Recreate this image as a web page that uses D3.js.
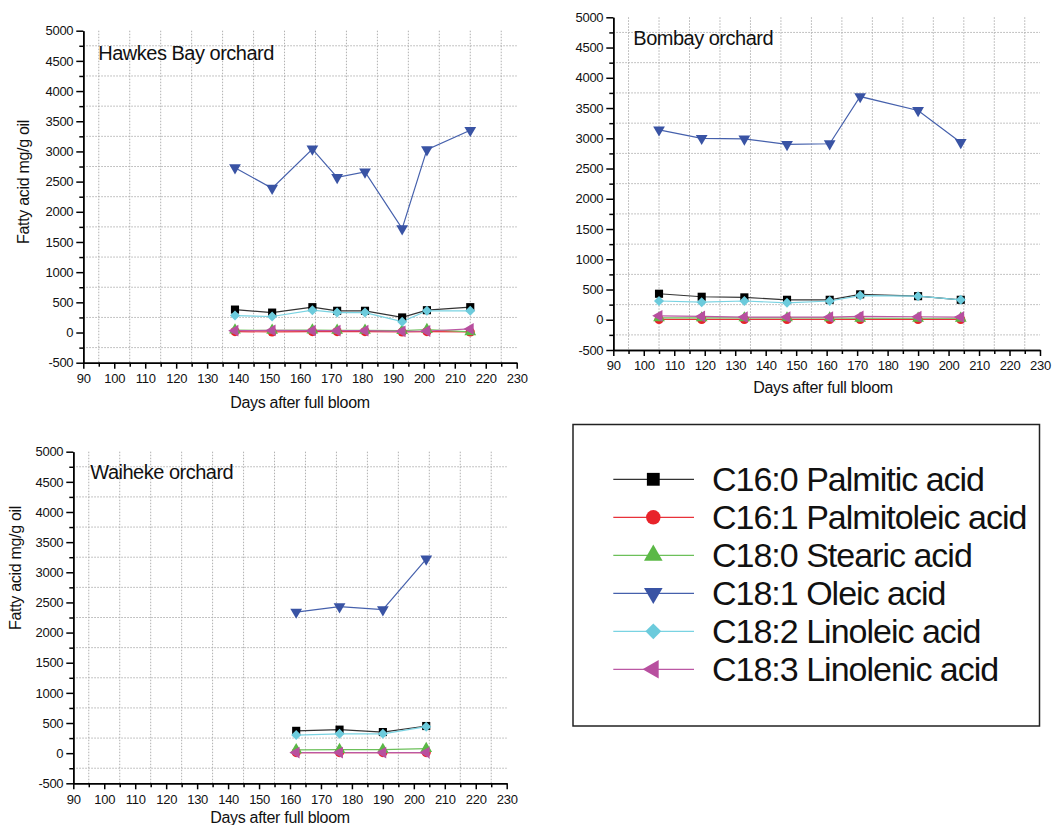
<!DOCTYPE html>
<html>
<head>
<meta charset="utf-8">
<script src="https://cdn.jsdelivr.net/npm/d3@7"></script>
<style>
  body { margin: 0; background: #fff; }
  text { font-family: "Liberation Sans", Arial, sans-serif; fill: #111; }
  .grid line { stroke: #b0b0b0; stroke-width: 1; stroke-dasharray: 1.5,1.5; }
  .axis path, .axis line { stroke: #000; stroke-width: 1.5; }
  .axis text { font-size: 13px; letter-spacing: -0.3px; }
</style>
</head>
<body>
<svg id="chart" width="1061" height="825"></svg>
<script>
// series (legend order)
var acidNames = ["C16:0 Palmitic acid", "C16:1 Palmitoleic acid", "C18:0 Stearic acid",
                 "C18:1 Oleic acid", "C18:2 Linoleic acid", "C18:3 Linolenic acid"];
var acidColors = ["#000000", "#e8232a", "#5bb846", "#3953a4", "#6ccbdc", "#b84f9f"];
var acidLineColors = ["#333333", "#e8323a", "#6cc05a", "#4560ac", "#7ad3e2", "#bb58a4"];

// Hawkes Bay orchard
var hawkesDays      = [139, 151, 164, 172, 181, 193, 201, 215];
var hawkesPalmitic  = [380, 330, 420, 360, 360, 250, 370, 420];
var hawkesPalmitol  = [15, 10, 15, 15, 15, 10, 15, 10];
var hawkesStearic   = [40, 35, 40, 35, 35, 30, 50, 10];
var hawkesOleic     = [2730, 2390, 3040, 2570, 2660, 1720, 3030, 3350];
var hawkesLinoleic  = [280, 265, 370, 330, 330, 180, 360, 360];
var hawkesLinolenic = [30, 35, 30, 30, 30, 20, 25, 60];

// Bombay orchard
var bombayDays      = [105, 119, 133, 147, 161, 171, 190, 204];
var bombayPalmitic  = [430, 380, 370, 330, 330, 420, 390, 330];
var bombayPalmitol  = [5, 5, 5, 5, 5, 5, 5, 5];
var bombayStearic   = [30, 30, 30, 30, 30, 25, 25, 25];
var bombayOleic     = [3140, 3000, 2990, 2900, 2910, 3690, 3460, 2930];
var bombayLinoleic  = [310, 290, 310, 280, 310, 400, 390, 330];
var bombayLinolenic = [65, 55, 45, 45, 45, 55, 50, 45];

// Waiheke orchard
var waihekeDays      = [162, 176, 190, 204];
var waihekePalmitic  = [370, 390, 350, 450];
var waihekePalmitol  = [10, 10, 10, 10];
var waihekeStearic   = [55, 60, 60, 75];
var waihekeOleic     = [2340, 2430, 2380, 3220];
var waihekeLinoleic  = [300, 320, 320, 440];
var waihekeLinolenic = [10, 10, 10, 10];

// axis ticks
var xMajorTicks = d3.range(90, 231, 10);
var xMinorTicks = d3.range(95, 230, 10);
var yMajorTicks = d3.range(-500, 5001, 500);
var yMinorTicks = d3.range(-250, 5000, 500);

var svg = d3.select("#chart");
svg.append("rect").attr("width", 1061).attr("height", 825).attr("fill", "#fff");

/*
  marker shapes
*/
function markerPath(i, big) {
  var k = big ? 2.5 : 1;
  var sq = d3.symbol().type(d3.symbolSquare).size(66 * k)();
  var ci = d3.symbol().type(d3.symbolCircle).size(66 * k)();
  var tr = d3.symbol().type(d3.symbolTriangle).size(60 * k)();
  var dm = d3.symbol().type(d3.symbolSquare).size(50 * k)();
  return [
    { d: sq, rot: 0 },
    { d: ci, rot: 0 },
    { d: tr, rot: 0 },
    { d: tr, rot: 180 },
    { d: dm, rot: 45 },
    { d: tr, rot: -90 }
  ][i];
}

// plain hyphen for negatives, like the original
function tickText(d) { return String(d); }

function drawPanel(p) {
  var g = svg.append("g");
  var x = d3.scaleLinear().domain([90, 230]).range([p.left, p.right]);
  var y = d3.scaleLinear().domain([-500, 5000]).range([p.bottom, p.top]);

  // dotted grid at minor positions
  var grid = g.append("g").attr("class", "grid");
  grid.selectAll(".vg").data(xMinorTicks).enter().append("line")
    .attr("x1", function(d) { return x(d); }).attr("x2", function(d) { return x(d); })
    .attr("y1", p.top).attr("y2", p.bottom);
  grid.selectAll(".hg").data(yMinorTicks).enter().append("line")
    .attr("x1", p.left).attr("x2", p.right)
    .attr("y1", function(d) { return y(d); }).attr("y2", function(d) { return y(d); });

  // axes
  g.append("g").attr("class", "axis")
    .attr("transform", "translate(" + p.left + ",0)")
    .call(d3.axisLeft(y).tickValues(yMajorTicks).tickSize(7).tickSizeOuter(0).tickPadding(3)
      .tickFormat(tickText));
  g.append("g").attr("class", "axis")
    .attr("transform", "translate(" + p.left + ",0)")
    .call(d3.axisLeft(y).tickValues(yMinorTicks).tickSize(4).tickSizeOuter(0).tickFormat(""));
  g.append("g").attr("class", "axis")
    .attr("transform", "translate(0," + p.bottom + ")")
    .call(d3.axisBottom(x).tickValues(xMajorTicks).tickSize(6).tickSizeOuter(0).tickPadding(5)
      .tickFormat(tickText));
  g.append("g").attr("class", "axis")
    .attr("transform", "translate(0," + p.bottom + ")")
    .call(d3.axisBottom(x).tickValues(xMinorTicks).tickSize(4).tickSizeOuter(0).tickFormat(""));
  g.selectAll(".axis .domain").attr("stroke-width", 1.6);

  // titles
  g.append("text")
    .attr("x", p.left + p.titleDx).attr("y", p.top + p.titleDy)
    .style("font-size", "20px").style("letter-spacing", "-0.5px")
    .text(p.title);
  g.append("text")
    .attr("x", p.xLabelX).attr("y", p.bottom + p.xLabelDy)
    .attr("text-anchor", "middle")
    .style("font-size", "16px").style("letter-spacing", "-0.3px")
    .text("Days after full bloom");
  if (p.yLabelCy) {
    g.append("text")
      .attr("transform", "translate(" + (p.left + p.yLabelDx) + "," + p.yLabelCy + ") rotate(-90)")
      .attr("text-anchor", "middle")
      .style("font-size", "16px").style("letter-spacing", "-0.3px")
      .text("Fatty acid mg/g oil");
  }

  // series
  var line = d3.line()
    .x(function(d) { return x(d[0]); })
    .y(function(d) { return y(d[1]); });
  p.series.forEach(function(vals, i) {
    var pts = p.days.map(function(d, j) { return [d, vals[j]]; });
    g.append("path").datum(pts)
      .attr("fill", "none").attr("stroke", acidLineColors[i]).attr("stroke-width", 1.2)
      .attr("d", line);
  });
  p.series.forEach(function(vals, i) {
    var m = markerPath(i, false);
    g.selectAll(".m" + i).data(vals).enter().append("path")
      .attr("d", m.d)
      .attr("fill", acidColors[i])
      .attr("transform", function(v, j) {
        return "translate(" + x(p.days[j]) + "," + y(v) + ") rotate(" + m.rot + ")";
      });
  });
}

var panels = [
  { title: "Hawkes Bay orchard", left: 83.3, right: 516.7, top: 30.7, bottom: 362.7,
    titleDx: 15, titleDy: 29, xLabelX: 300, xLabelDy: 45, yLabelDx: -54, yLabelCy: 182,
    days: hawkesDays,
    series: [hawkesPalmitic, hawkesPalmitol, hawkesStearic, hawkesOleic, hawkesLinoleic, hawkesLinolenic] },
  { title: "Bombay orchard", left: 613.3, right: 1040, top: 17.3, bottom: 350,
    titleDx: 20, titleDy: 28, xLabelX: 823, xLabelDy: 43, yLabelDx: 0, yLabelCy: null,
    days: bombayDays,
    series: [bombayPalmitic, bombayPalmitol, bombayStearic, bombayOleic, bombayLinoleic, bombayLinolenic] },
  { title: "Waiheke orchard", left: 73.3, right: 506.7, top: 451.7, bottom: 783.3,
    titleDx: 17, titleDy: 27, xLabelX: 280, xLabelDy: 40, yLabelDx: -52, yLabelCy: 568,
    days: waihekeDays,
    series: [waihekePalmitic, waihekePalmitol, waihekeStearic, waihekeOleic, waihekeLinoleic, waihekeLinolenic] }
];
panels.forEach(drawPanel);

/*
  legend box
*/
var lg = svg.append("g");
lg.append("rect")
  .attr("x", 573).attr("y", 424.5).attr("width", 466.5).attr("height", 301.5)
  .attr("fill", "#fff").attr("stroke", "#222").attr("stroke-width", 1.5);
acidNames.forEach(function(name, i) {
  var cy = 479.3 + i * 38;
  lg.append("line")
    .attr("x1", 613.3).attr("x2", 694).attr("y1", cy).attr("y2", cy)
    .attr("stroke", acidLineColors[i]).attr("stroke-width", 1.2);
  var m = markerPath(i, true);
  lg.append("path").attr("d", m.d).attr("fill", acidColors[i])
    .attr("transform", "translate(653.3," + cy + ") rotate(" + m.rot + ")");
  lg.append("text")
    .attr("x", 712).attr("y", cy + 12)
    .style("font-size", "34px").style("letter-spacing", "-1px")
    .text(name);
});
</script>
</body>
</html>
